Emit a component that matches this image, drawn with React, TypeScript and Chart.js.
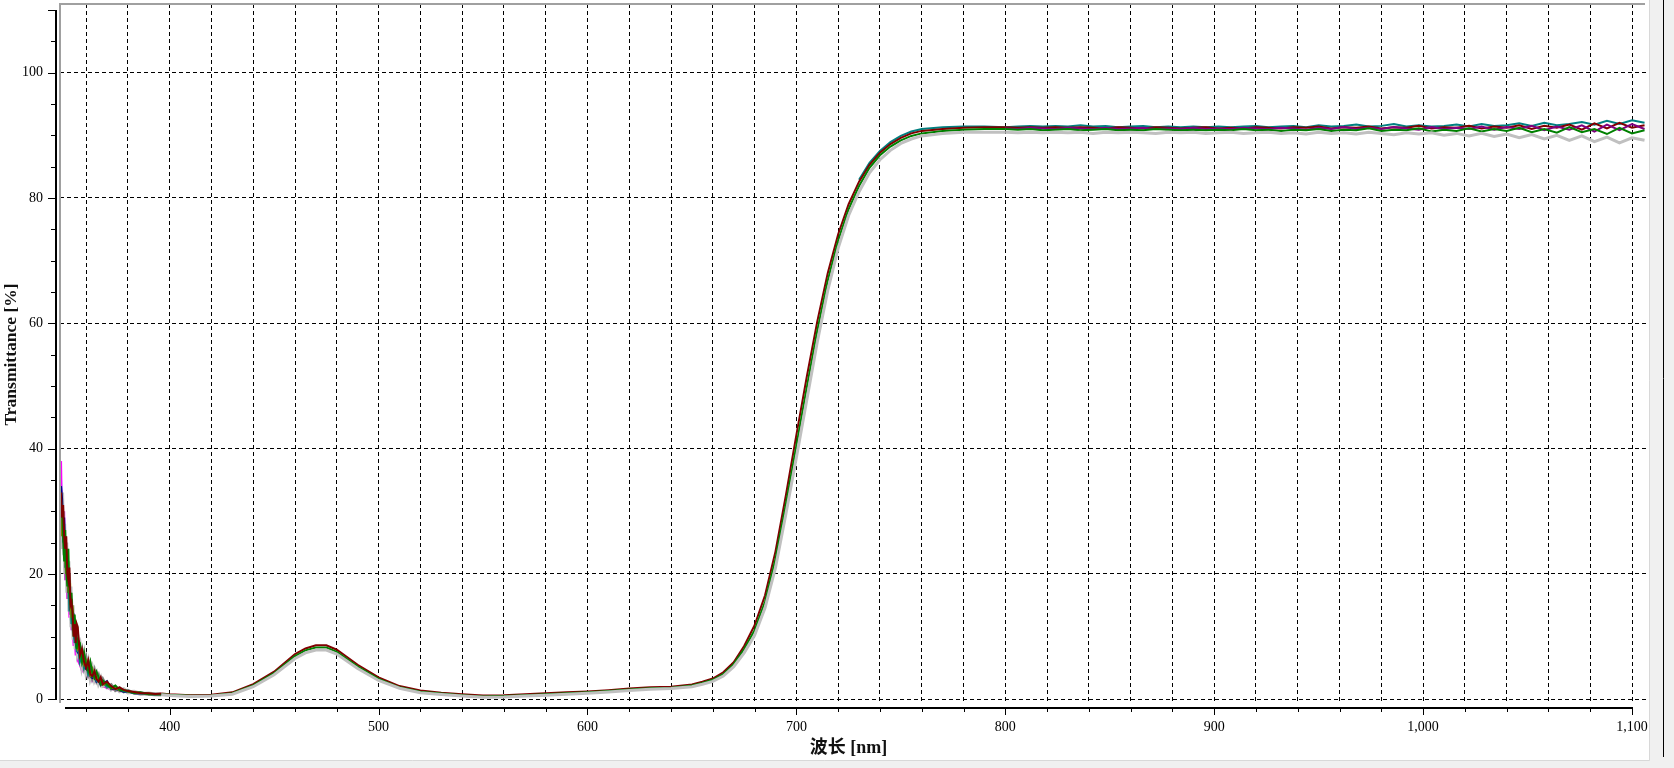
import React, { useEffect, useRef } from "react";
import { Chart, registerables } from "chart.js";

Chart.register(...registerables);

// ---------- data ----------
// Noisy start of the spectrum (UV edge)
const wlNoise = [348, 348.5, 349, 349.5, 350, 350.5, 351, 351.5, 352, 352.5, 353, 353.5, 354, 354.5, 355, 355.5, 356, 357, 358, 359, 360, 361, 362, 363, 364, 365, 366, 367, 368, 370, 372, 374, 376, 378, 380, 383, 386, 390, 393, 396];
const noiseSilver = [30, 33, 24, 28, 20, 25, 17, 22, 14, 18, 11.5, 15, 9.5, 12.5, 8, 11, 7.5, 8.5, 5.5, 7, 4.5, 5.8, 3.6, 4.8, 3.2, 4.0, 2.6, 3.3, 2.2, 2.6, 1.6, 2.0, 1.3, 1.6, 1.1, 1.2, 0.85, 0.9, 0.75, 0.7];
const noiseGray = [33, 27, 30, 23, 26, 19, 23, 16, 20, 13.5, 16, 11, 13.5, 9.5, 11.5, 8.5, 10, 6.5, 7.8, 5.2, 6.5, 4.2, 5.5, 3.5, 4.6, 3.0, 3.8, 2.5, 3.2, 1.9, 2.3, 1.4, 1.8, 1.2, 1.4, 0.95, 1.05, 0.8, 0.85, 0.8];
const noiseGreen = [29, 31, 26, 22, 27, 21, 18, 24, 17, 15, 17, 13, 10, 13.5, 11, 8, 9.5, 9, 6, 7.5, 5.5, 4.5, 6, 4.2, 3.4, 4.4, 3.5, 2.4, 3.0, 2.3, 1.8, 2.2, 1.5, 1.4, 1.3, 1.0, 1.1, 0.8, 0.85, 0.8];
const noiseMaroon = [33, 29, 31, 26, 24, 26, 20, 19, 21, 15, 15.5, 14, 10, 12, 9, 12, 11.5, 7, 8, 6, 5, 6.2, 4, 3.7, 4.5, 3.2, 2.8, 3.5, 2.4, 2.8, 2.1, 1.6, 1.9, 1.5, 1.3, 1.15, 1.0, 0.95, 0.85, 0.9];
const noiseOlive = [30, 26, 28, 24, 22, 20, 24, 17, 19, 16, 13, 15, 12, 10, 12.5, 9.5, 8, 8.5, 6.5, 5.5, 6.2, 5.5, 3.8, 4.8, 3.3, 3.6, 3.0, 2.9, 2.3, 2.5, 1.7, 1.9, 1.4, 1.5, 1.25, 1.1, 0.95, 0.9, 0.8, 0.8];
const noiseTeal = [32, 30, 25, 27, 21, 23, 19, 21, 14, 17, 12, 14, 11.5, 9, 10.5, 7.5, 9, 6, 7, 5, 5.8, 4.0, 4.8, 3.6, 3.8, 2.9, 3.3, 2.5, 2.7, 2.0, 2.0, 1.6, 1.6, 1.3, 1.2, 1.0, 0.95, 0.85, 0.8, 0.8];
const noiseMagenta = [38, 28, 25, 30, 19, 24, 16, 19, 13, 16, 11, 12, 8.5, 10, 7, 8.5, 6.2, 5.5, 4.5, 5.2, 4.0, 3.6, 4.6, 3.0, 3.4, 2.7, 2.5, 2.8, 2.1, 1.8, 1.6, 1.5, 1.3, 1.3, 1.05, 1.0, 0.9, 0.8, 0.75, 0.75];
const noiseCyan = [35, 31, 27, 24, 25, 20, 22, 17, 18, 14, 15, 11.5, 12, 9.5, 10, 8, 8.2, 6.8, 5.8, 6.5, 4.6, 5.0, 3.9, 4.1, 3.3, 3.5, 2.7, 2.9, 2.3, 2.1, 1.8, 1.7, 1.5, 1.3, 1.2, 1.0, 0.95, 0.85, 0.8, 0.75];
const noiseNavy = [34, 32, 28, 29, 24, 22, 21, 17, 18.5, 15.5, 14, 12.5, 13, 10, 9, 10, 7.5, 7, 6, 5.5, 4.8, 4.6, 3.7, 3.4, 3.6, 2.8, 3.0, 2.3, 2.5, 2.9, 1.6, 1.7, 1.4, 1.2, 1.25, 0.95, 0.9, 0.85, 0.8, 0.8];
const noiseYellow = [31, 28, 26, 25, 22, 23, 18, 20, 16, 17, 12.5, 13, 10.5, 11, 8.5, 9, 7.8, 7.5, 5.2, 6, 4.4, 4.8, 4.0, 3.8, 3.0, 3.1, 2.6, 2.6, 2.0, 2.2, 1.7, 1.5, 1.4, 1.3, 1.1, 1.0, 0.9, 0.8, 0.8, 0.8];

// Smooth middle part (band: upper / middle / lower edge)
const wlSmooth = [396, 400, 410, 420, 430, 440, 450, 460, 465, 470, 475, 480, 490, 500, 510, 520, 530, 540, 550, 560, 570, 580, 590, 600, 610, 620, 630, 640, 650, 655, 660, 665, 670, 675, 680, 685, 690, 695, 700, 705, 710, 715, 720, 725, 730, 735, 740, 745, 750, 755, 760, 770, 780, 790, 800];
const smoothUpper = [0.9, 0.8, 0.65, 0.7, 1.1, 2.4, 4.4, 7.2, 8.1, 8.6, 8.6, 7.9, 5.5, 3.5, 2.1, 1.4, 1.05, 0.8, 0.6, 0.65, 0.8, 0.95, 1.1, 1.25, 1.45, 1.7, 1.9, 2.0, 2.35, 2.8, 3.3, 4.3, 5.9, 8.5, 11.8, 16.6, 23.6, 32.6, 42.2, 51.5, 60.3, 68.0, 74.2, 79.0, 82.6, 85.3, 87.2, 88.6, 89.6, 90.3, 90.7, 91.0, 91.2, 91.3, 91.3];
const smoothMiddle = [0.8, 0.7, 0.55, 0.6, 0.95, 2.2, 4.15, 6.9, 7.8, 8.25, 8.25, 7.55, 5.2, 3.25, 1.9, 1.2, 0.9, 0.65, 0.45, 0.5, 0.65, 0.8, 0.95, 1.1, 1.3, 1.55, 1.75, 1.85, 2.2, 2.6, 3.1, 4.0, 5.6, 8.0, 11.0, 15.6, 22.4, 31.2, 40.5, 49.8, 58.8, 66.8, 73.2, 78.2, 81.9, 84.8, 86.8, 88.2, 89.2, 89.9, 90.3, 90.7, 90.9, 91.0, 91.0];
const smoothLower = [0.7, 0.6, 0.45, 0.5, 0.8, 2.0, 3.9, 6.5, 7.4, 7.85, 7.85, 7.2, 4.9, 3.0, 1.75, 1.05, 0.75, 0.5, 0.3, 0.35, 0.5, 0.65, 0.8, 0.95, 1.15, 1.4, 1.6, 1.7, 2.0, 2.4, 2.85, 3.7, 5.2, 7.4, 10.2, 14.6, 21.0, 29.6, 38.6, 47.8, 57.0, 65.2, 72.0, 77.2, 81.0, 84.0, 86.1, 87.6, 88.7, 89.4, 89.9, 90.3, 90.5, 90.5, 90.5];

// Knee (top edge)
const wlKnee = [730, 735, 740, 745, 750, 755, 760, 770, 780, 790, 800];
const kneeTeal = [82.9, 85.6, 87.5, 88.9, 89.9, 90.6, 91.0, 91.3, 91.4, 91.4, 91.3];

// Plateau
const wlPlateau = [800, 806, 812, 818, 824, 830, 836, 842, 848, 854, 860, 866, 872, 878, 884, 890, 896, 902, 908, 914, 920, 926, 932, 938, 944, 950, 956, 962, 968, 974, 980, 986, 992, 998, 1004, 1010, 1016, 1022, 1028, 1034, 1040, 1046, 1052, 1058, 1064, 1070, 1076, 1082, 1088, 1094, 1100, 1106];
const plateauTeal = [91.3, 91.4, 91.5, 91.4, 91.5, 91.4, 91.6, 91.4, 91.5, 91.3, 91.4, 91.5, 91.3, 91.4, 91.3, 91.4, 91.3, 91.4, 91.3, 91.4, 91.5, 91.3, 91.4, 91.5, 91.3, 91.6, 91.4, 91.5, 91.7, 91.4, 91.5, 91.8, 91.4, 91.6, 91.4, 91.5, 91.7, 91.4, 91.8, 91.5, 91.6, 91.9, 91.5, 92.0, 91.6, 91.8, 92.1, 91.7, 92.3, 91.8, 92.4, 92.0];
const plateauPurple = [91.1, 91.0, 91.2, 91.1, 91.0, 91.2, 91.1, 91.0, 91.2, 91.0, 91.1, 91.2, 91.0, 91.1, 91.0, 91.2, 91.0, 91.1, 91.0, 91.2, 91.1, 91.0, 91.2, 91.1, 90.9, 91.2, 91.0, 91.3, 91.0, 91.2, 91.0, 91.3, 91.1, 90.9, 91.3, 91.0, 91.2, 91.0, 91.4, 90.9, 91.3, 91.0, 91.5, 90.8, 91.4, 90.9, 91.6, 90.6, 91.7, 90.8, 91.8, 91.0];
const plateauMaroon = [91.3, 91.2, 91.3, 91.2, 91.3, 91.2, 91.3, 91.2, 91.1, 91.3, 91.2, 91.1, 91.3, 91.2, 91.1, 91.2, 91.3, 91.1, 91.2, 91.1, 91.3, 91.2, 91.1, 91.3, 91.2, 91.4, 91.1, 91.3, 91.2, 91.4, 91.1, 91.3, 91.2, 91.5, 91.1, 91.3, 91.2, 91.5, 91.1, 91.4, 91.2, 91.6, 91.0, 91.5, 91.2, 91.7, 90.9, 91.9, 91.1, 92.0, 91.2, 91.6];
const plateauGreen = [91.0, 90.9, 91.0, 90.8, 90.9, 91.0, 90.8, 90.9, 91.0, 90.8, 90.9, 90.8, 91.0, 90.9, 90.8, 90.9, 90.8, 90.9, 90.8, 91.0, 90.8, 90.9, 90.7, 90.9, 90.8, 91.0, 90.7, 90.9, 90.8, 91.1, 90.7, 90.9, 90.8, 91.1, 90.6, 90.9, 90.7, 91.1, 90.6, 91.0, 90.7, 91.2, 90.5, 91.0, 90.4, 91.3, 90.5, 91.0, 90.2, 91.2, 90.3, 90.8];
const plateauSilver = [90.5, 90.4, 90.5, 90.4, 90.5, 90.4, 90.5, 90.3, 90.5, 90.4, 90.5, 90.4, 90.3, 90.5, 90.4, 90.5, 90.3, 90.4, 90.5, 90.3, 90.4, 90.5, 90.3, 90.4, 90.2, 90.5, 90.3, 90.4, 90.2, 90.5, 90.3, 90.1, 90.4, 90.2, 90.4, 90.0, 90.3, 89.9, 90.3, 89.8, 90.2, 89.6, 90.1, 89.4, 90.0, 89.2, 89.9, 89.0, 89.7, 88.8, 89.6, 89.2];

// Axes
const xGridValues = [360, 380, 400, 420, 440, 460, 480, 500, 520, 540, 560, 580, 600, 620, 640, 660, 680, 700, 720, 740, 760, 780, 800, 820, 840, 860, 880, 900, 920, 940, 960, 980, 1000, 1020, 1040, 1060, 1080, 1100];
const xLabelValues = [400, 500, 600, 700, 800, 900, 1000, 1100];
const xAxisStart = 350;
const xAxisEnd = 1100;
const yGridValues = [0, 20, 40, 60, 80, 100];
const yTickValues = [0, 5, 10, 15, 20, 25, 30, 35, 40, 45, 50, 55, 60, 65, 70, 75, 80, 85, 90, 95, 100, 105, 110];
const yAxisTop = 110;
const xTitle = "波长 [nm]";
const yTitle = "Transmittance [%]";

const SERIF = '"Liberation Serif", "Times New Roman", serif';
const SERIF_CJK = '"Liberation Serif", "Noto Sans CJK SC", serif';

const pts = (xs: number[], ys: number[]) => xs.map((x, i) => ({ x, y: ys[i] }));

const ds = (data: { x: number; y: number }[], color: string, width = 2) => ({
  data,
  borderColor: color,
  backgroundColor: color,
  borderWidth: width,
  pointRadius: 0,
  pointHoverRadius: 0,
  fill: false,
  tension: 0,
});

const framePlugin = {
  id: "framePlugin",
  beforeDraw(chart: any) {
    const ctx = chart.ctx;
    ctx.save();
    ctx.fillStyle = "#f0f0f0";
    ctx.fillRect(0, 0, chart.width, chart.height);
    ctx.fillStyle = "#ffffff";
    ctx.fillRect(0, 0, 1649, 760);
    ctx.strokeStyle = "#d8d8d8";
    ctx.lineWidth = 1;
    ctx.beginPath();
    ctx.moveTo(1649.5, 0);
    ctx.lineTo(1649.5, 760.5);
    ctx.lineTo(0, 760.5);
    ctx.stroke();
    ctx.strokeStyle = "#000000";
    ctx.beginPath();
    ctx.moveTo(1663.5, 0);
    ctx.lineTo(1663.5, 757);
    ctx.stroke();
    ctx.restore();
  },
  afterDraw(chart: any) {
    const { ctx, chartArea } = chart;
    const xs = chart.scales.x;
    const ys = chart.scales.y;
    ctx.save();
    // grey frame (left + top)
    ctx.fillStyle = "#a0a0a0";
    ctx.fillRect(chartArea.left - 1, chartArea.top - 1, 2, chartArea.bottom - chartArea.top + 1);
    ctx.fillRect(chartArea.left - 1, chartArea.top - 1, chartArea.right - chartArea.left, 2);

    ctx.fillStyle = "#000000";
    ctx.strokeStyle = "#000000";
    ctx.lineWidth = 1;
    // x axis
    const axY = 707;
    const x0 = Math.round(xs.getPixelForValue(xAxisStart));
    const x1 = Math.round(xs.getPixelForValue(xAxisEnd));
    ctx.fillRect(x0, axY, x1 - x0 + 1, 2);
    for (const v of xGridValues) {
      const px = Math.round(xs.getPixelForValue(v)) + 0.5;
      const len = xLabelValues.includes(v) ? 8 : 5;
      ctx.beginPath();
      ctx.moveTo(px, axY);
      ctx.lineTo(px, axY + len);
      ctx.stroke();
    }
    // y axis
    const axX = 55;
    const yTop = Math.round(ys.getPixelForValue(yAxisTop));
    const yBot = Math.round(ys.getPixelForValue(0));
    ctx.fillRect(axX, yTop, 2, yBot - yTop + 1);
    for (const v of yTickValues) {
      const py = Math.round(ys.getPixelForValue(v)) + 0.5;
      const major = v % 20 === 0 || v === yAxisTop;
      ctx.beginPath();
      ctx.moveTo(axX - (major ? 7 : 4), py);
      ctx.lineTo(axX, py);
      ctx.stroke();
    }
    // titles
    ctx.fillStyle = "#111111";
    ctx.textAlign = "center";
    ctx.textBaseline = "middle";
    ctx.font = `bold 18px ${SERIF_CJK}`;
    ctx.fillText(xTitle, (x0 + x1) / 2, 748);
    ctx.save();
    ctx.translate(11, (yTop + yBot) / 2);
    ctx.rotate(-Math.PI / 2);
    ctx.font = `bold 17.5px ${SERIF}`;
    ctx.fillText(yTitle, 0, 0);
    ctx.restore();
    ctx.restore();
  },
};

export default function App() {
  const ref = useRef<HTMLCanvasElement | null>(null);

  useEffect(() => {
    document.body.style.margin = "0";
    const canvas = ref.current;
    if (!canvas) return;

    // first dataset is painted last (on top)
    const datasets = [
      ds(pts(wlSmooth, smoothLower), "#c0c0c0", 3),
      ds(pts(wlPlateau, plateauSilver), "#c0c0c0", 3),
      ds(pts(wlNoise, noiseMaroon), "#800000"),
      ds(pts(wlNoise, noiseGreen), "#008000"),
      ds(pts(wlNoise, noiseOlive), "#808000"),
      ds(pts(wlNoise, noiseTeal), "#008080"),
      ds(pts(wlNoise, noiseNavy), "#000080"),
      ds(pts(wlNoise, noiseGray), "#808080", 3),
      ds(pts(wlNoise, noiseSilver), "#c0c0c0", 4),
      ds(pts(wlNoise, noiseMagenta), "#ff00ff"),
      ds(pts(wlNoise, noiseYellow), "#ffff00"),
      ds(pts(wlNoise, noiseCyan), "#00ffff"),
      ds(pts(wlSmooth, smoothMiddle), "#008000"),
      ds(pts(wlPlateau, plateauGreen), "#008000"),
      ds(pts(wlPlateau, plateauPurple), "#800080"),
      ds(pts(wlSmooth, smoothUpper), "#800000"),
      ds(pts(wlPlateau, plateauMaroon), "#800000"),
      ds(pts(wlKnee, kneeTeal), "#008080"),
      ds(pts(wlPlateau, plateauTeal), "#008080"),
    ];

    const chart = new Chart(canvas, {
      type: "line",
      data: { datasets },
      plugins: [framePlugin],
      options: {
        responsive: false,
        animation: false,
        devicePixelRatio: 1,
        layout: { padding: { top: 4, right: 28, left: 0, bottom: 0 } },
        plugins: { legend: { display: false }, tooltip: { enabled: false } },
        events: [],
        scales: {
          x: {
            type: "linear",
            min: 347.5,
            max: 1106.7,
            afterBuildTicks: (scale: any) => {
              scale.ticks = xGridValues.map((v) => ({ value: v }));
            },
            afterFit: (scale: any) => {
              scale.height = 65;
              scale.paddingLeft = 0;
              scale.paddingRight = 0;
              scale.paddingTop = 0;
              scale.paddingBottom = 0;
            },
            grid: { color: "#000000", lineWidth: 1, drawTicks: false },
            border: { display: false, dash: [4, 3] },
            ticks: {
              autoSkip: false,
              maxRotation: 0,
              padding: 16,
              color: "#000000",
              font: { family: SERIF, size: 14 },
              callback: (v: any) => (xLabelValues.includes(Number(v)) ? Number(v).toLocaleString("en-US") : ""),
            },
          },
          y: {
            type: "linear",
            min: -0.6,
            max: 110.95,
            afterBuildTicks: (scale: any) => {
              scale.ticks = yGridValues.map((v) => ({ value: v }));
            },
            afterFit: (scale: any) => {
              scale.width = 60;
              scale.paddingLeft = 0;
              scale.paddingRight = 0;
              scale.paddingTop = 0;
              scale.paddingBottom = 0;
            },
            grid: { color: "#000000", lineWidth: 1, drawTicks: false },
            border: { display: false, dash: [4, 3] },
            ticks: {
              padding: 17,
              color: "#000000",
              font: { family: SERIF, size: 14 },
              callback: (v: any) => String(v),
            },
          },
        },
      } as any,
    });

    return () => chart.destroy();
  }, []);

  return (
    <div style={{ position: "fixed", left: 0, top: 0, width: 1674, height: 768 }}>
      <canvas ref={ref} width={1674} height={768} style={{ width: 1674, height: 768, display: "block" }} />
    </div>
  );
}
